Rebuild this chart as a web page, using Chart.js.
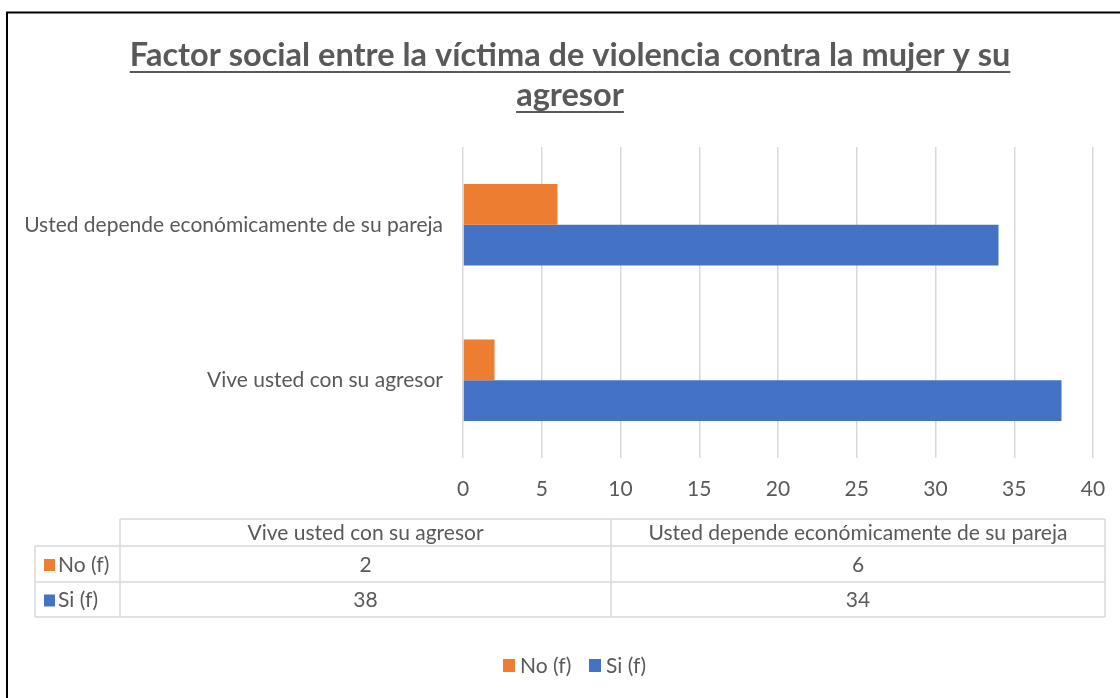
<!DOCTYPE html>
<html><head><meta charset="utf-8">
<script src="https://cdn.jsdelivr.net/npm/chart.js@4"></script>
<style>html,body{margin:0;padding:0;background:#fff;overflow:hidden}#wrap{width:1120px;height:698px;position:relative}</style>
</head><body><div id="wrap"><canvas id="c" width="1120" height="698"></canvas></div>
<script>
const titleLines = ['Factor social entre la víctima de violencia contra la mujer y su', 'agresor'];
const categories = ['Vive usted con su agresor', 'Usted depende económicamente de su pareja'];
const seriesNames = ['No (f)', 'Si (f)'];
const noValues = [2, 6];
const siValues = [38, 34];
const seriesColors = ['#ED7D31', '#4472C4'];
const xMin = 0, xMax = 40, xStep = 5;

const FONT = 'Lato, "Open Sans", sans-serif';
const TXT = '#595959';
const GRID = '#d9d9d9';

const extras = {
  id: 'extras',
  afterDraw(chart) {
    const ctx = chart.ctx;
    ctx.save();
    // outer border
    ctx.strokeStyle = '#000';
    ctx.lineWidth = 2;
    ctx.beginPath();
    ctx.moveTo(7, 700); ctx.lineTo(7, 12.5); ctx.lineTo(1122, 12.5);
    ctx.stroke();

    // title
    ctx.fillStyle = TXT;
    ctx.strokeStyle = TXT;
    ctx.font = 'bold 32.5px ' + FONT;
    ctx.textAlign = 'center';
    ctx.textBaseline = 'alphabetic';
    const cx = 570;
    const baselines = [66, 106];
    titleLines.forEach((t, i) => {
      ctx.fillText(t, cx, baselines[i]);
      const w = ctx.measureText(t).width;
      ctx.lineWidth = 2;
      ctx.beginPath();
      ctx.moveTo(cx - w / 2, baselines[i] + 6);
      ctx.lineTo(cx + w / 2, baselines[i] + 6);
      ctx.stroke();
    });

    // data table
    const L = 35, C0 = 120, C1 = 611, R = 1105;
    const rows = [519, 546, 582, 617];
    ctx.strokeStyle = GRID;
    ctx.lineWidth = 1.5;
    ctx.beginPath();
    ctx.moveTo(C0, rows[0]); ctx.lineTo(R, rows[0]);
    ctx.moveTo(L, rows[1]); ctx.lineTo(R, rows[1]);
    ctx.moveTo(L, rows[2]); ctx.lineTo(R, rows[2]);
    ctx.moveTo(L, rows[3]); ctx.lineTo(R, rows[3]);
    ctx.moveTo(L, rows[1]); ctx.lineTo(L, rows[3]);
    ctx.moveTo(C0, rows[0]); ctx.lineTo(C0, rows[3]);
    ctx.moveTo(C1, rows[0]); ctx.lineTo(C1, rows[3]);
    ctx.moveTo(R, rows[0]); ctx.lineTo(R, rows[3]);
    ctx.stroke();

    ctx.font = '21px ' + FONT;
    ctx.fillStyle = TXT;
    ctx.textBaseline = 'middle';
    ctx.textAlign = 'center';
    const colC = [(C0 + C1) / 2, (C1 + R) / 2];
    categories.forEach((c, i) => ctx.fillText(c, colC[i], (rows[0] + rows[1]) / 2 + 1));
    const vals = [noValues, siValues];
    vals.forEach((arr, r) => {
      const y = (rows[r + 1] + rows[r + 2]) / 2 + 1;
      arr.forEach((v, i) => { ctx.fillStyle = TXT; ctx.fillText(String(v), colC[i], y); });
      ctx.fillStyle = seriesColors[r];
      ctx.fillRect(44, y - 6, 11, 12);
      ctx.fillStyle = TXT;
      ctx.textAlign = 'left';
      ctx.fillText(seriesNames[r], 58, y);
      ctx.textAlign = 'center';
    });

    // legend
    const ly = 666;
    ctx.textAlign = 'left';
    const lx = [503, 589];
    seriesNames.forEach((n, i) => {
      ctx.fillStyle = seriesColors[i];
      ctx.fillRect(lx[i], ly - 7, 12, 13);
      ctx.fillStyle = TXT;
      ctx.fillText(n, lx[i] + 17, ly);
    });
    ctx.restore();
  }
};

new Chart(document.getElementById('c'), {
  type: 'bar',
  data: {
    labels: categories,
    datasets: [
      { label: seriesNames[0], data: noValues, backgroundColor: seriesColors[0] },
      { label: seriesNames[1], data: siValues, backgroundColor: seriesColors[1] }
    ]
  },
  options: {
    indexAxis: 'y',
    responsive: false,
    animation: false,
    devicePixelRatio: 1,
    layout: { padding: { top: 147, right: 27, left: 0, bottom: 0 } },
    datasets: { bar: { categoryPercentage: 0.525, barPercentage: 1.0 } },
    plugins: { legend: { display: false }, title: { display: false }, tooltip: { enabled: false } },
    scales: {
      x: {
        min: xMin, max: xMax,
        ticks: { stepSize: xStep, color: TXT, font: { family: FONT, size: 21 }, padding: 19 },
        grid: { color: GRID, lineWidth: 1.5, drawTicks: false },
        border: { display: false },
        afterFit(s) { s.height = 698 - 458; s.paddingRight = 0; s.paddingLeft = 0; }
      },
      y: {
        reverse: true,
        ticks: { color: TXT, font: { family: FONT, size: 21 }, padding: 20 },
        grid: { display: false, drawTicks: false },
        border: { display: false },
        afterFit(s) { s.width = 463; s.paddingTop = 0; s.paddingBottom = 0; }
      }
    }
  },
  plugins: [extras]
});
</script>
</body></html>
